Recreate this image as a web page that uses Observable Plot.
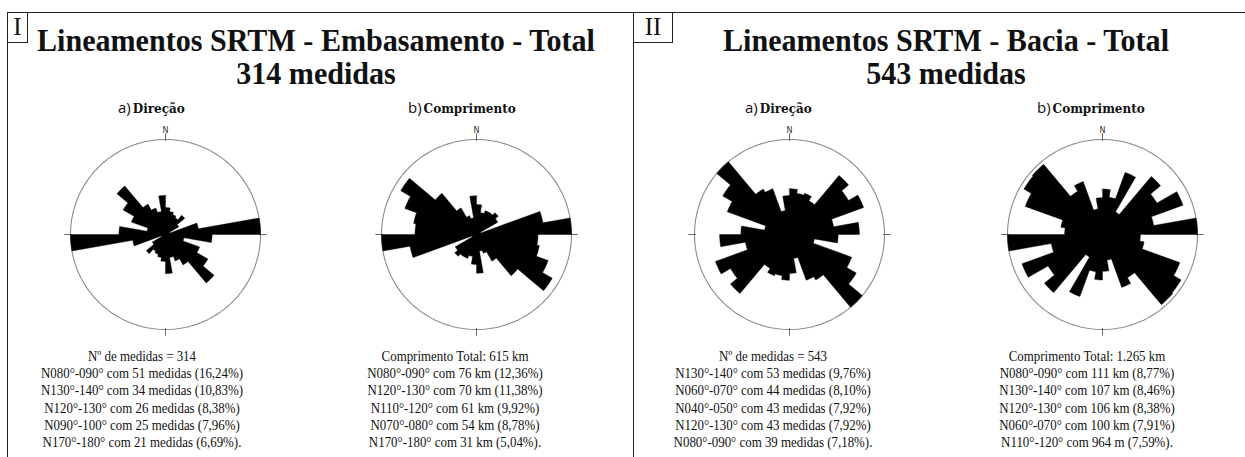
<!DOCTYPE html>
<html><head><meta charset="utf-8">
<script src="https://cdn.jsdelivr.net/npm/d3@7"></script>
<script src="https://cdn.jsdelivr.net/npm/@observablehq/plot@0.6"></script>
<style>
body{margin:0;background:#fff;}
#page{position:relative;width:1245px;height:457px;overflow:hidden;background:#fff;font-family:"Liberation Serif",serif;color:#111;}
.hline{position:absolute;height:0;border-top:1.5px solid #222;}
.vline{position:absolute;width:0;border-left:1.5px solid #222;}
.box{position:absolute;border:1.5px solid #222;box-sizing:border-box;text-align:center;font-size:25px;line-height:27px;background:#fff;}
.title{position:absolute;text-align:center;font-weight:bold;font-size:32px;line-height:33px;white-space:nowrap;transform:scaleX(0.94);transform-origin:50% 0;}
.sub{position:absolute;white-space:nowrap;font-family:"Open Sans",sans-serif;font-size:15px;line-height:18px;}
.sub b{font-family:"DejaVu Serif",serif;font-size:12px;font-weight:bold;margin-left:2px;}
.stats{position:absolute;text-align:center;white-space:nowrap;font-size:15px;line-height:17.2px;transform:scaleX(0.86);transform-origin:50% 0;}
.rose{position:absolute;}
</style></head><body><div id="page"></div>
<script>
// ---- data ----
const binLabels = ["000-010","010-020","020-030","030-040","040-050","050-060","060-070","070-080","080-090",
                   "090-100","100-110","110-120","120-130","130-140","140-150","150-160","160-170","170-180"];
// Panel I: Embasamento (percent per 10° bin)
const dirEmbasamento  = [4.6,4.0,3.6,3.3,4.3,2.6,0.8,5.7,16.24,7.96,3.2,6.2,8.38,10.83,6.0,4.8,4.0,6.69];
const compEmbasamento = [3.9,2.9,3.3,3.3,3.7,3.2,0.6,8.78,12.36,8.0,8.3,9.92,11.38,7.0,4.0,2.6,2.2,5.04];
// Panel II: Bacia
const dirBacia  = [4.7,4.3,4.5,4.0,7.92,7.0,8.10,4.6,7.18,5.0,2.6,6.8,7.92,9.76,5.4,5.0,2.5,4.0];
const compBacia = [4.2,3.5,6.1,2.4,7.0,5.8,7.91,4.8,8.77,3.5,3.9,7.59,8.38,8.46,4.6,5.2,2.4,3.4];

const panelLabels = ["I","II"];
const titles = [["Lineamentos SRTM - Embasamento - Total","314 medidas"],["Lineamentos SRTM - Bacia - Total","543 medidas"]];
const subLetters = ["a)","b)"];
const subNames = ["Direção","Comprimento"];
const statsDirEmb = ["Nº de medidas = 314","N080°-090° com 51 medidas (16,24%)","N130°-140° com 34 medidas (10,83%)",
  "N120°-130° com 26 medidas (8,38%)","N090°-100° com 25 medidas (7,96%)","N170°-180° com 21 medidas (6,69%)."];
const statsCompEmb = ["Comprimento Total: 615 km","N080°-090° com 76 km (12,36%)","N120°-130° com 70 km (11,38%)",
  "N110°-120° com 61 km (9,92%)","N070°-080° com 54 km (8,78%)","N170°-180° com 31 km (5,04%)."];
const statsDirBac = ["Nº de medidas = 543","N130°-140° com 53 medidas (9,76%)","N060°-070° com 44 medidas (8,10%)",
  "N040°-050° com 43 medidas (7,92%)","N120°-130° com 43 medidas (7,92%)","N080°-090° com 39 medidas (7,18%)."];
const statsCompBac = ["Comprimento Total: 1.265 km","N080°-090° com 111 km (8,77%)","N130°-140° com 107 km (8,46%)",
  "N120°-130° com 106 km (8,38%)","N060°-070° com 100 km (7,91%)","N110°-120° com 964 m (7,59%)."];

// ---- layout ----
const page = document.getElementById("page");
function el(cls, css, html){const d=document.createElement("div");d.className=cls;Object.assign(d.style,css);if(html!=null)d.innerHTML=html;page.appendChild(d);return d;}

el("hline",{left:"7px",top:"12px",width:"1240px"});
el("vline",{left:"7px",top:"12px",height:"450px"});
el("vline",{left:"633px",top:"12px",height:"450px"});
el("box",{left:"7px",top:"12px",width:"21px",height:"31px"},panelLabels[0]);
el("box",{left:"633px",top:"12px",width:"40px",height:"31px"},panelLabels[1]);
el("title",{left:"16px",width:"600px",top:"24px"},titles[0].join("<br>"));
el("title",{left:"646px",width:"600px",top:"24px"},titles[1].join("<br>"));

const R_PX = 95, SIZE = 240;
function rose(values){
  const vmax = d3.max(values);
  const D = vmax * (SIZE/2) / R_PX;
  // one closed outline: 36 sectors (each 10° bin and its opposite), radius = bin value
  const outline = [];
  for (let k=0;k<36;k++){
    const v = values[k%18];
    for (let a=k*10; a<=k*10+10+1e-9; a+=2.5){
      const t=a*Math.PI/180; outline.push({bin:binLabels[k%18],x:v*Math.sin(t),y:v*Math.cos(t)});
    }
  }
  const circle = d3.range(0,361,2).map(a=>({x:vmax*Math.sin(a*Math.PI/180),y:vmax*Math.cos(a*Math.PI/180)}));
  const ticks = [0,90,180,270].map(a=>{const t=a*Math.PI/180;return {x1:0.985*vmax*Math.sin(t),y1:0.985*vmax*Math.cos(t),x2:1.065*vmax*Math.sin(t),y2:1.065*vmax*Math.cos(t)};});
  return Plot.plot({
    width:SIZE,height:SIZE,margin:0,
    x:{domain:[-D,D],axis:null},y:{domain:[-D,D],axis:null},
    marks:[
      Plot.line(circle,{x:"x",y:"y",stroke:"#8a8a8a",strokeWidth:1.1}),
      Plot.link(ticks,{x1:"x1",y1:"y1",x2:"x2",y2:"y2",stroke:"#666",strokeWidth:1}),
      Plot.line(outline,{x:"x",y:"y",fill:"#000",stroke:"#000",strokeWidth:0.4,strokeLinejoin:"miter",curve:"linear-closed"}),
      Plot.text([{x:0,y:vmax*1.095}],{x:"x",y:"y",text:()=>"N",fontSize:8,fontFamily:"DejaVu Sans",fill:"#333"})
    ]
  });
}

const roses = [
  {vals:dirEmbasamento, cx:164.5, cy:233.7, sub:0, subX:118, stats:statsDirEmb, sx:142},
  {vals:compEmbasamento, cx:476, cy:233.7, sub:1, subX:408, stats:statsCompEmb, sx:455},
  {vals:dirBacia, cx:789, cy:234, sub:0, subX:745, stats:statsDirBac, sx:773},
  {vals:compBacia, cx:1101.7, cy:234, sub:1, subX:1037, stats:statsCompBac, sx:1087}
];
for (const r of roses){
  el("sub",{left:r.subX+"px",top:"98px"},subLetters[r.sub]+"<b>"+subNames[r.sub]+"</b>");
  const holder = el("rose",{left:(r.cx-SIZE/2)+"px",top:(r.cy-SIZE/2)+"px",width:SIZE+"px",height:SIZE+"px"});
  holder.appendChild(rose(r.vals));
  el("stats",{left:(r.sx-150)+"px",width:"300px",top:"348px"},r.stats.join("<br>"));
}
</script></body></html>
